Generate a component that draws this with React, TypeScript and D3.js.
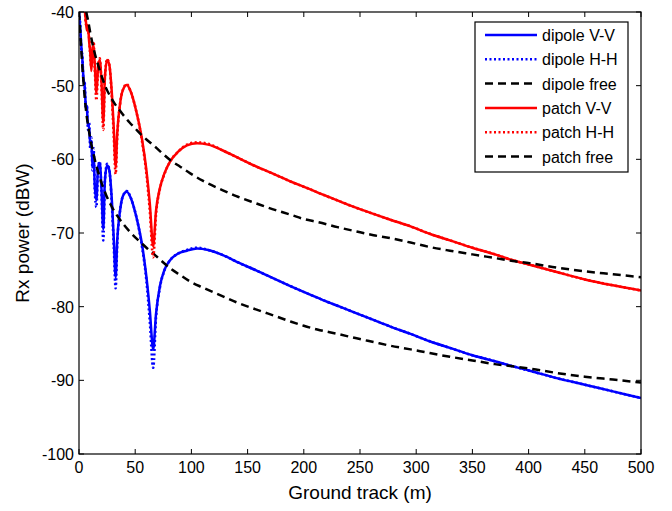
import React from 'react';
import * as d3 from 'd3';

const vvTrack = [0, 1, 2, 3, 4, 5, 6, 7, 8, 9, 10, 11, 12, 13, 14, 15.5, 17, 18.5, 20, 21.6, 23, 25, 27, 29, 31, 32.6, 34, 36.5, 39, 42.5, 46, 51, 56, 60, 63, 66, 68.5, 72, 76, 81, 88, 96, 105, 115, 128, 143, 158, 175, 188, 203, 217, 232, 247, 262, 277, 295, 312, 330, 350, 370, 386, 401, 425, 450, 475, 500];

const dipoleVV = [-40, -42, -44.5, -46.5, -49, -50, -52.5, -53, -55.5, -55.5, -58, -57.5, -61, -59, -63.5, -65.5, -61, -60.5, -64, -69.5, -63, -60.8, -61.5, -65, -71, -76, -71, -67, -65, -64.4, -65.2, -67.8, -71.5, -76, -80.5, -85.8, -81, -77.2, -75, -73.7, -72.8, -72.4, -72.1, -72.3, -73, -74.1, -75.1, -76.3, -77.2, -78.2, -79.1, -80, -80.9, -81.8, -82.7, -83.7, -84.7, -85.6, -86.6, -87.4, -88.1, -88.7, -89.7, -90.6, -91.5, -92.4];

const dipoleHH = [-40, -41.5, -45, -46, -49.5, -49.5, -53, -52.5, -56, -55, -58.5, -57, -61.5, -58.5, -64, -66.5, -61, -60.3, -64.5, -71, -63, -60.6, -61.5, -65.5, -72, -77.5, -71.5, -67, -65, -64.3, -65.2, -67.8, -71.8, -76.5, -82, -88.3, -81.5, -77.4, -75.1, -73.7, -72.8, -72.3, -72, -72.3, -73, -74.1, -75.1, -76.3, -77.2, -78.2, -79.1, -80, -80.9, -81.8, -82.7, -83.7, -84.7, -85.6, -86.6, -87.4, -88.1, -88.7, -89.7, -90.6, -91.5, -92.4];

const patchVV = [-30, -31, -33, -35.5, -37.5, -39.5, -41, -42.5, -41.8, -44, -45.5, -48, -45, -44.5, -47, -51, -47.5, -46.5, -49.5, -55, -49, -46.5, -47.2, -50.5, -56, -61, -56.5, -52.5, -50.6, -49.9, -50.8, -53.5, -57.2, -61.5, -66, -71.8, -67, -63.9, -61.9, -60.3, -59, -58.1, -57.8, -58, -58.8, -59.9, -61, -62.1, -63, -63.9, -64.8, -65.7, -66.6, -67.4, -68.2, -69.1, -70.1, -71, -72, -72.9, -73.7, -74.3, -75.3, -76.3, -77.1, -77.8];

const patchHH = [-30, -31, -33.5, -35, -38, -39, -41.5, -42, -42.5, -43.5, -46, -47.5, -45.5, -44, -47.5, -52, -47.5, -46.3, -50, -56, -49, -46.4, -47.2, -51, -57, -62, -57, -52.5, -50.6, -49.8, -50.8, -53.5, -57.5, -62, -67, -73.3, -67.5, -64, -62, -60.3, -59, -58, -57.7, -57.9, -58.8, -59.9, -61, -62.1, -63, -63.9, -64.8, -65.7, -66.6, -67.4, -68.2, -69.1, -70.1, -71, -72, -72.9, -73.7, -74.3, -75.3, -76.3, -77.1, -77.8];

// free-space reference curves
const freeTrack = [0, 1, 2, 3, 4, 5, 6, 7, 8, 10, 12, 14, 16, 18, 21, 24, 28, 32, 36, 40, 45, 50, 55, 60, 67, 75, 82, 90, 99, 110, 128, 140, 158, 175, 188, 200, 212, 230, 247, 262, 277, 295, 312, 330, 350, 370, 386, 401, 425, 450, 475, 500];

const dipoleFree = [-40, -42.5, -45, -47.5, -49.5, -51.5, -53, -54.3, -55.3, -57.2, -58.7, -60, -61.2, -62.2, -63.6, -64.8, -66.1, -67.2, -68.1, -68.9, -69.8, -70.6, -71.3, -72, -72.9, -74, -74.9, -75.7, -76.6, -77.4, -78.6, -79.4, -80.4, -81.3, -82, -82.6, -83.1, -83.7, -84.3, -84.8, -85.3, -85.8, -86.3, -86.8, -87.3, -87.8, -88.1, -88.4, -89, -89.5, -89.9, -90.3];

const patchFree = [-33, -34.3, -35.6, -36.8, -37.8, -38.7, -39.6, -40.4, -41.1, -42.8, -44.3, -45.6, -46.7, -47.7, -49.1, -50.3, -51.5, -52.5, -53.3, -54.1, -55, -55.8, -56.6, -57.3, -58.2, -59.3, -60.2, -61, -61.9, -62.9, -64.2, -65, -66, -66.9, -67.5, -68.1, -68.5, -69.2, -69.8, -70.3, -70.7, -71.3, -71.9, -72.4, -72.9, -73.4, -73.8, -74.1, -74.7, -75.2, -75.6, -76];

const xTicks = [0, 50, 100, 150, 200, 250, 300, 350, 400, 450, 500];
const yTicks = [-100, -90, -80, -70, -60, -50, -40];

const legendNames = ['dipole V-V', 'dipole H-H', 'dipole free', 'patch V-V', 'patch H-H', 'patch free'];

const W = 672, H = 511;
const margin = { top: 12, right: 31, bottom: 57, left: 79 };
const FONT = 'Liberation Sans, Arial, Helvetica, sans-serif';

export default function App() {
  const x = d3.scaleLinear().domain([0, 500]).range([margin.left, W - margin.right]);
  const y = d3.scaleLinear().domain([-100, -40]).range([H - margin.bottom, margin.top]);
  const [x0, x1] = x.range();
  const [y0, y1] = y.range();

  const line = d3.line<[number, number]>()
    .x(d => x(d[0]))
    .y(d => y(d[1]))
    .curve(d3.curveMonotoneX);

  const zip = (xs: number[], ys: number[]) => xs.map((v, i) => [v, ys[i]] as [number, number]);

  const solid = '';
  const dotted = '2,2.5';
  const dashed = '8,5';

  // plot order as in the original figure
  const series = [
    { name: legendNames[0], pts: zip(vvTrack, dipoleVV), color: '#0000ff', dash: solid },
    { name: legendNames[1], pts: zip(vvTrack, dipoleHH), color: '#0000ff', dash: dotted },
    { name: legendNames[2], pts: zip(freeTrack, dipoleFree), color: '#000000', dash: dashed },
    { name: legendNames[3], pts: zip(vvTrack, patchVV), color: '#ff0000', dash: solid },
    { name: legendNames[4], pts: zip(vvTrack, patchHH), color: '#ff0000', dash: dotted },
    { name: legendNames[5], pts: zip(freeTrack, patchFree), color: '#000000', dash: dashed },
  ];

  const tick = 5;
  const leg = { x: 475, y: 22, w: 153, h: 150, row: 24.3 };

  return (
    <svg width={W} height={H} style={{ position: 'absolute', left: 0, top: 0, background: '#fff' }}>
      <defs>
        <clipPath id="plot">
          <rect x={x0} y={y1} width={x1 - x0} height={y0 - y1} />
        </clipPath>
      </defs>
      <rect x={0} y={0} width={W} height={H} fill="#fff" />

      <g clipPath="url(#plot)" fill="none" strokeLinejoin="round">
        {series.map(s => (
          <path key={s.name} d={line(s.pts) || ''} stroke={s.color} strokeWidth={s.dash === dotted ? 2.6 : 2.5}
            strokeDasharray={s.dash || undefined} />
        ))}
      </g>

      {/* axes box and inward ticks */}
      <rect x={x0} y={y1} width={x1 - x0} height={y0 - y1} fill="none" stroke="#000" strokeWidth={1.2} />
      {xTicks.map(t => (
        <g key={'x' + t}>
          <line x1={x(t)} x2={x(t)} y1={y0} y2={y0 - tick} stroke="#000" />
          <line x1={x(t)} x2={x(t)} y1={y1} y2={y1 + tick} stroke="#000" />
          <text x={x(t)} y={y0 + 19} textAnchor="middle" fontFamily={FONT} fontSize={16}>{t}</text>
        </g>
      ))}
      {yTicks.map(t => (
        <g key={'y' + t}>
          <line x1={x0} x2={x0 + tick} y1={y(t)} y2={y(t)} stroke="#000" />
          <line x1={x1} x2={x1 - tick} y1={y(t)} y2={y(t)} stroke="#000" />
          <text x={x0 - 5} y={y(t) + 6} textAnchor="end" fontFamily={FONT} fontSize={16}>{t}</text>
        </g>
      ))}

      <text x={(x0 + x1) / 2} y={H - 12} textAnchor="middle" fontFamily={FONT} fontSize={19}>Ground track (m)</text>
      <text transform={`translate(29, ${(y0 + y1) / 2}) rotate(-90)`} textAnchor="middle" fontFamily={FONT} fontSize={19}>Rx power (dBW)</text>

      {/* legend */}
      <rect x={leg.x} y={leg.y} width={leg.w} height={leg.h} fill="#fff" stroke="#000" strokeWidth={1.2} />
      {series.map((s, i) => {
        const cy = leg.y + 13 + i * leg.row;
        return (
          <g key={'l' + s.name}>
            <line x1={leg.x + 10} x2={leg.x + 62} y1={cy} y2={cy} stroke={s.color}
              strokeWidth={s.dash === dotted ? 2.6 : 2.5} strokeDasharray={s.dash || undefined} />
            <text x={leg.x + 67} y={cy + 6} fontFamily={FONT} fontSize={16}>{s.name}</text>
          </g>
        );
      })}
    </svg>
  );
}
